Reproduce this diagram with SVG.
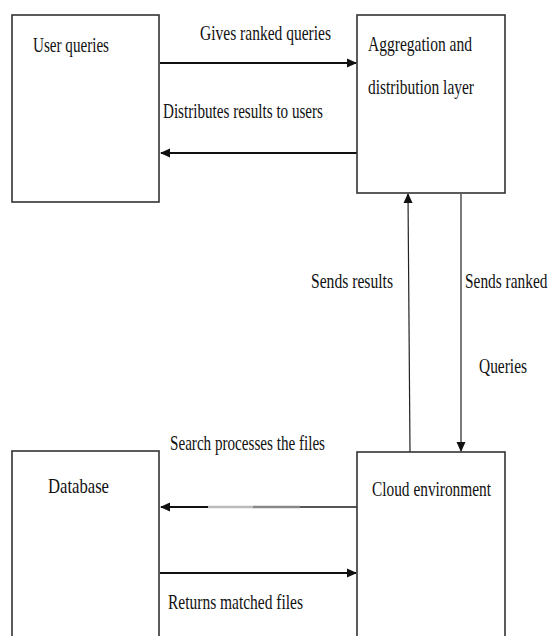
<svg xmlns="http://www.w3.org/2000/svg" width="554" height="636" viewBox="0 0 554 636">
<defs>
<style>
.box{fill:#fff;stroke:#333;stroke-width:1.6}
.lbl{font-family:"Liberation Serif","Times New Roman",serif;font-size:22px;fill:#111}
.con{stroke:#111;stroke-width:1.8;fill:none}
.thin{stroke:#222;stroke-width:1.2;fill:none}
</style>
<marker id="ah" markerWidth="10" markerHeight="10" refX="9" refY="5" orient="auto" markerUnits="userSpaceOnUse">
<path d="M0,0.5 L10,5 L0,9.5 Z" fill="#111"/>
</marker>
</defs>
<rect width="554" height="636" fill="#fff"/>
<g id="connectors">
<line class="con" x1="160" y1="63" x2="356" y2="63" marker-end="url(#ah)"/>
<line class="con" x1="357" y1="153" x2="161" y2="153" marker-end="url(#ah)"/>
<line class="thin" x1="410" y1="452" x2="408" y2="194" marker-end="url(#ah)"/>
<line class="thin" x1="461" y1="194" x2="461" y2="451" marker-end="url(#ah)"/>
<g id="search-arrow">
<line x1="357" y1="507" x2="300" y2="507" stroke="#555" stroke-width="1.8"/>
<line x1="300" y1="507" x2="253" y2="507" stroke="#888" stroke-width="2.4"/>
<line x1="253" y1="507" x2="208" y2="507" stroke="#bbb" stroke-width="2.4"/>
<line class="con" x1="208" y1="507" x2="161" y2="507" marker-end="url(#ah)"/>
</g>
<line class="con" x1="160" y1="573" x2="356" y2="573" marker-end="url(#ah)"/>
<text class="lbl" x="200" y="40" textLength="131" lengthAdjust="spacingAndGlyphs">Gives ranked queries</text>
<text class="lbl" x="163" y="118" textLength="160" lengthAdjust="spacingAndGlyphs">Distributes results to users</text>
<text class="lbl" x="311" y="288" textLength="82" lengthAdjust="spacingAndGlyphs">Sends results</text>
<text class="lbl" transform="translate(465 288) scale(0.7 1)">Sends ranked</text>
<text class="lbl" x="479" y="373" textLength="48" lengthAdjust="spacingAndGlyphs">Queries</text>
<text class="lbl" x="170" y="450" textLength="155" lengthAdjust="spacingAndGlyphs">Search processes the files</text>
<text class="lbl" x="168" y="609" textLength="135" lengthAdjust="spacingAndGlyphs">Returns matched files</text>
</g>
<g id="user-queries">
<rect class="box" x="12" y="15" width="147" height="187"/>
<text class="lbl" x="33" y="52" textLength="76" lengthAdjust="spacingAndGlyphs">User queries</text>
</g>
<g id="aggregation">
<rect class="box" x="357" y="15" width="148" height="178"/>
<text class="lbl" x="368" y="51" textLength="104" lengthAdjust="spacingAndGlyphs">Aggregation and</text>
<text class="lbl" x="368" y="94" textLength="106" lengthAdjust="spacingAndGlyphs">distribution layer</text>
</g>
<g id="database">
<rect class="box" x="12" y="451" width="147" height="200"/>
<text class="lbl" x="48" y="493" textLength="61" lengthAdjust="spacingAndGlyphs">Database</text>
</g>
<g id="cloud">
<rect class="box" x="357" y="452" width="148" height="200"/>
<text class="lbl" x="372" y="496" textLength="119" lengthAdjust="spacingAndGlyphs">Cloud environment</text>
</g>
</svg>
